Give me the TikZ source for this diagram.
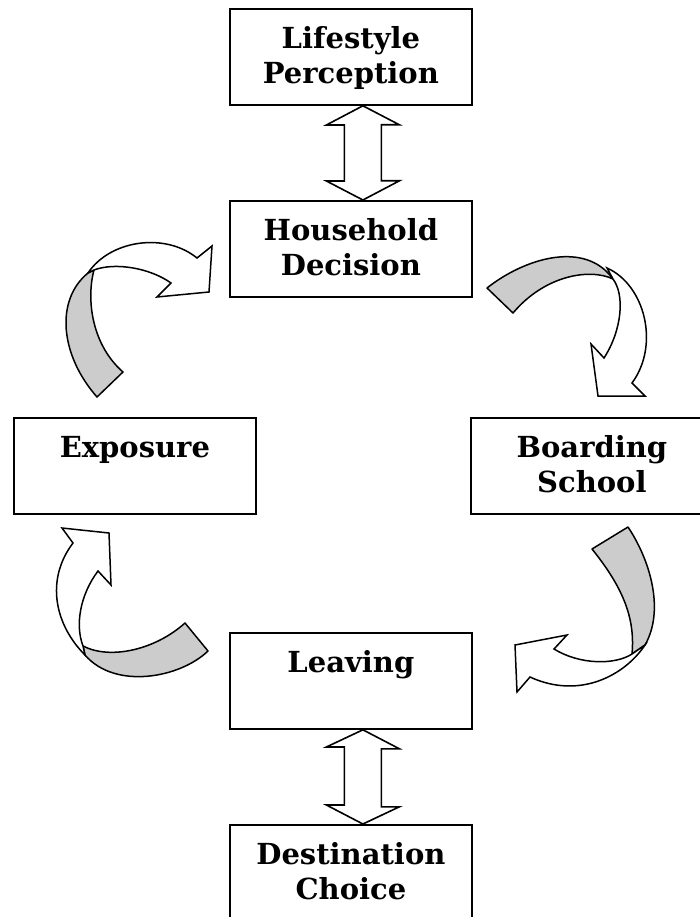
\documentclass[tikz,border=0pt]{standalone}
\usepackage{fontspec}
\setmainfont{DejaVu Serif}
\definecolor{shade}{RGB}{204,204,204}
\newcommand{\stagetext}[1]{\parbox[c][96pt][t]{242pt}{\centering\vspace*{15pt}\strut#1}}
\tikzset{
  stage/.style={draw,rectangle,line width=1.8pt,inner sep=0pt,anchor=north west,
    font=\fontsize{29}{35}\selectfont\bfseries},
  block/.style={draw,fill=white,line width=1.6pt,line join=miter},
  back/.style={draw,fill=shade,line width=1.5pt,line join=round},
  front/.style={draw,fill=white,line width=1.5pt,line join=miter}
}
\begin{document}
\begin{tikzpicture}[x=1pt,y=-1pt]
\useasboundingbox (0,0) rectangle (699,917);

\node[stage] (life) at (229,8) {\stagetext{Lifestyle\\Perception}};
\node[stage] (house) at (229,200) {\stagetext{Household\\Decision}};
\node[stage] (expo) at (13,417) {\stagetext{Exposure}};
\node[stage] (board) at (470,417) {\stagetext{Boarding\\School}};
\node[stage] (leave) at (229,632) {\stagetext{Leaving}};
\node[stage] (dest) at (229,824) {\stagetext{Destination\\Choice}};

% double arrows
\draw[block] ([xshift=12pt]life.south) -- ++(36.5,19) -- ++(-18,0) -- ++(0,56)
  -- ++(18,0) -- ([xshift=12pt]house.north) -- ++(-36.5,-19) -- ++(18,0)
  -- ++(0,-56) -- ++(-18,0) -- cycle;
\draw[block] ([xshift=12pt]leave.south) -- ++(36.5,19) -- ++(-18,0) -- ++(0,58)
  -- ++(18,0) -- ([xshift=12pt]dest.north) -- ++(-36.5,-19) -- ++(18,0)
  -- ++(0,-58) -- ++(-18,0) -- cycle;

% exposure -> household
\draw[back] (88,273) .. controls (55,300) and (60,355) .. (97,397) -- (123,372)
  .. controls (92,345) and (86,300) .. (94,270) -- cycle;
\draw[front] (88,273) .. controls (110,240) and (165,232) .. (197,258) -- (212,246)
  -- (209,292) -- (157,297) -- (171,283) .. controls (150,268) and (115,262) .. (94,270) -- cycle;

% household -> boarding school
\draw[back] (487,288) .. controls (525,258) and (585,240) .. (613,279)
  .. controls (590,268) and (545,275) .. (513,313) -- cycle;
\draw[front] (607,268) .. controls (645,285) and (660,345) .. (632,383) -- (645,396)
  -- (598,396) -- (591,344) -- (604,358) .. controls (622,330) and (625,295) .. (613,279) -- cycle;

% boarding school -> leaving
\draw[back] (592,549) .. controls (625,590) and (635,620) .. (632,654) -- (645,645)
  .. controls (665,610) and (650,560) .. (628,527) -- cycle;
\draw[front] (645,645) .. controls (625,675) and (580,700) .. (530,677) -- (517,692)
  -- (515,645) -- (567,635) -- (554,649) .. controls (580,665) and (615,665) .. (632,654) -- cycle;

% leaving -> exposure
\draw[back] (83,646) .. controls (110,660) and (155,650) .. (185,623) -- (208,651)
  .. controls (180,678) and (115,690) .. (85,655) -- cycle;
\draw[front] (85,655) .. controls (55,625) and (45,580) .. (73,543) -- (62,528)
  -- (109,533) -- (111,585) -- (98,571) .. controls (80,595) and (75,625) .. (83,646) -- cycle;
\end{tikzpicture}
\end{document}
